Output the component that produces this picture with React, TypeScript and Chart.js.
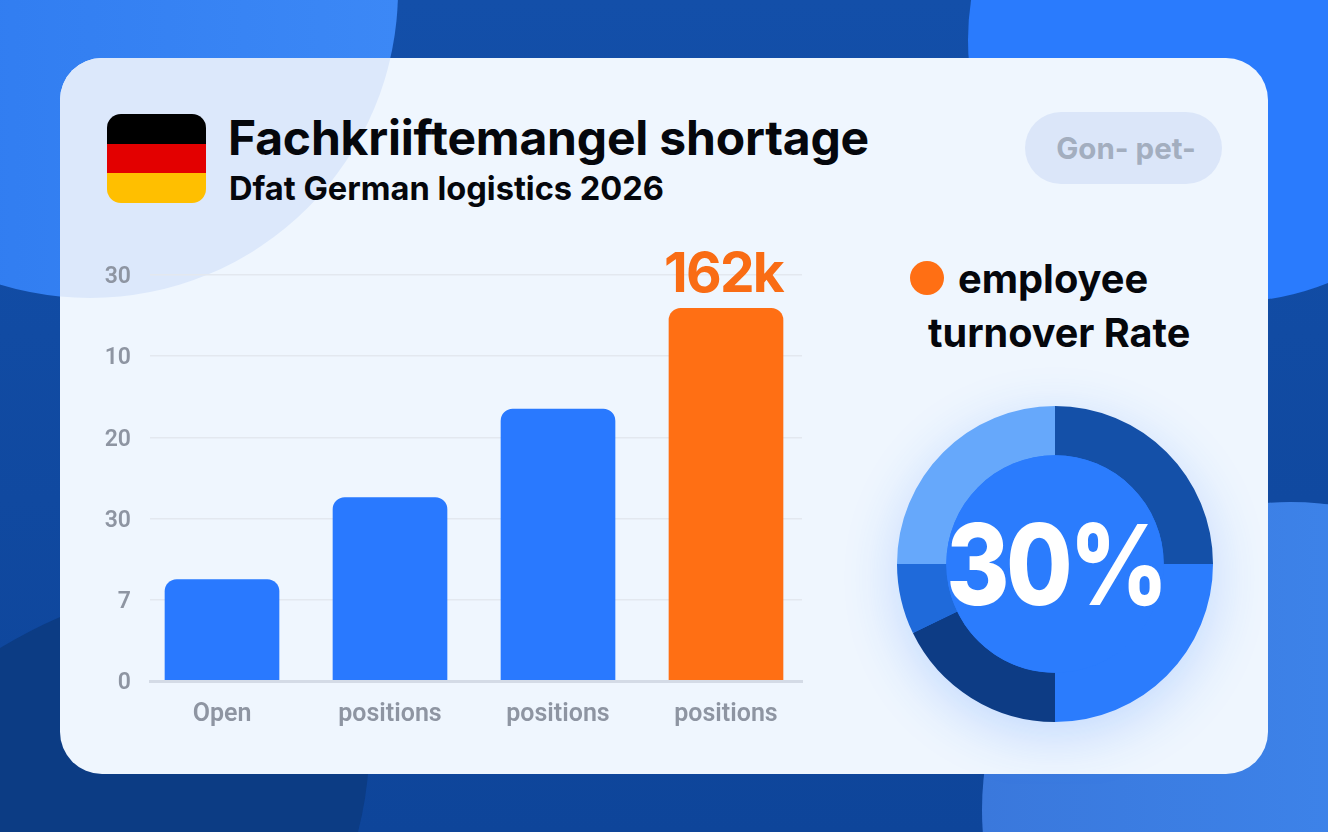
import React, { useEffect, useRef } from "react";
import { Chart, registerables } from "chart.js";

Chart.register(...registerables);

const titleText = "Fachkriiftemangel shortage";
const subtitleText = "Dfat German logistics 2026";
const pillText = "Gon- pet-";
const legendLines = ["employee", "turnover Rate"];

const categories = ["Open", "positions", "positions", "positions"];
const barValues = [1.25, 2.26, 3.35, 4.59];
const barColors = ["#2979ff", "#2979ff", "#2979ff", "#ff6f14"];
const yTickLabels = ["0", "7", "30", "20", "10", "30"];
const peakLabel = "162k";

const donutShares = [25, 25, 17.8, 7.2, 25];
const donutColors = ["#1450a8", "#2b7cfd", "#0d3c85", "#1f6ada", "#66a8fb"];
const donutCenterText = "30%";

const FONT = "Inter, sans-serif";
const TICK_FONT = "Roboto, sans-serif";

const peakLabelPlugin = {
  id: "peakLabel",
  afterDatasetsDraw(chart: any) {
    const el = chart.getDatasetMeta(0).data[barValues.length - 1];
    const { ctx } = chart;
    ctx.save();
    ctx.font = `700 55px ${FONT}`;
    ctx.letterSpacing = "-1.8px";
    ctx.fillStyle = "#f96c14";
    ctx.textAlign = "center";
    ctx.textBaseline = "alphabetic";
    ctx.fillText(peakLabel, el.x - 2.5, el.y - 16);
    ctx.restore();
  },
};

const donutDecor = {
  id: "donutDecor",
  beforeDatasetsDraw(chart: any) {
    const el = chart.getDatasetMeta(0).data[0];
    const { ctx } = chart;
    ctx.save();
    ctx.shadowColor = "rgba(41,121,255,0.24)";
    ctx.shadowBlur = 55;
    ctx.shadowOffsetY = 14;
    ctx.fillStyle = "#2b7cfd";
    ctx.beginPath();
    ctx.arc(el.x, el.y, el.outerRadius - 1, 0, Math.PI * 2);
    ctx.fill();
    ctx.restore();
  },
  afterDatasetsDraw(chart: any) {
    const el = chart.getDatasetMeta(0).data[0];
    const { ctx } = chart;
    ctx.save();
    ctx.fillStyle = "#2b7cfd";
    ctx.beginPath();
    ctx.arc(el.x, el.y, el.innerRadius, 0, Math.PI * 2);
    ctx.fill();
    ctx.translate(el.x + 0.5, el.y + 41);
    ctx.scale(0.86, 1);
    ctx.font = `800 112px ${FONT}`;
    ctx.letterSpacing = "-4px";
    ctx.fillStyle = "#ffffff";
    ctx.textAlign = "center";
    ctx.textBaseline = "alphabetic";
    ctx.fillText(donutCenterText, 0, 0);
    ctx.restore();
  },
};

export default function App() {
  const barRef = useRef<HTMLCanvasElement>(null);
  const donutRef = useRef<HTMLCanvasElement>(null);

  useEffect(() => {
    const bar = new Chart(barRef.current as HTMLCanvasElement, {
      type: "bar",
      data: {
        datasets: [
          {
            data: barValues.map((y, x) => ({ x, y })),
            backgroundColor: barColors,
            barThickness: 114,
            borderRadius: { topLeft: 12, topRight: 12, bottomLeft: 0, bottomRight: 0 },
            borderSkipped: false,
          },
        ],
      },
      options: {
        responsive: false,
        animation: false,
        layout: { padding: { top: 45, right: 18, left: 0, bottom: 0 } },
        plugins: { legend: { display: false }, tooltip: { enabled: false } },
        scales: {
          x: {
            type: "linear",
            offset: false,
            min: -0.4286,
            max: 3.4524,
            afterBuildTicks: (s: any) => {
              s.ticks = categories.map((_, value) => ({ value }));
            },
            afterFit: (s: any) => {
              s.height = 69;
            },
            grid: { display: false, drawTicks: false, offset: false },
            border: { display: true, color: "#d4dbe6", width: 3, z: 1 },
            ticks: {
              autoSkip: false,
              maxRotation: 0,
              padding: 19,
              color: "#8e95a2",
              font: { family: TICK_FONT, size: 25, weight: "600" },
              callback: (v: any) => categories[v as number],
            },
          },
          y: {
            min: 0,
            max: 5,
            afterFit: (s: any) => {
              s.width = 50;
            },
            grid: {
              drawTicks: false,
              lineWidth: 1.5,
              color: (c: any) => (c.tick.value === 0 ? "rgba(0,0,0,0)" : "#e3e8ef"),
            },
            border: { display: false },
            ticks: {
              stepSize: 1,
              padding: 19,
              labelOffset: 2.5,
              color: "#8e95a2",
              font: { family: TICK_FONT, size: 23, weight: "600" },
              callback: (v: any) => yTickLabels[v as number],
            },
          },
        },
      } as any,
      plugins: [peakLabelPlugin],
    });

    const donut = new Chart(donutRef.current as HTMLCanvasElement, {
      type: "doughnut",
      data: {
        datasets: [{ data: donutShares, backgroundColor: donutColors, borderWidth: 0 }],
      },
      options: {
        responsive: false,
        animation: false,
        cutout: "68.8%",
        layout: { padding: 62 },
        plugins: { legend: { display: false }, tooltip: { enabled: false } },
      } as any,
      plugins: [donutDecor],
    });

    return () => {
      bar.destroy();
      donut.destroy();
    };
  }, []);

  return (
    <div style={{ position: "fixed", left: 0, top: 0, width: 1328, height: 832, overflow: "hidden" }}>
      <svg width={1328} height={832} style={{ position: "absolute", left: 0, top: 0 }}>
        <defs>
          <clipPath id="cardClip">
            <rect x={60} y={58} width={1208} height={716} rx={42} />
          </clipPath>
          <linearGradient id="baseGrad" x1="0" y1="0" x2="0" y2="1">
            <stop offset="0" stopColor="#134fa9" />
            <stop offset="1" stopColor="#0e459a" />
          </linearGradient>
          <linearGradient id="tlGrad" x1="0" y1="0" x2="1" y2="0">
            <stop offset="0" stopColor="#2c78ee" />
            <stop offset="1" stopColor="#3c88f6" />
          </linearGradient>
          <linearGradient id="brGrad" x1="0" y1="0" x2="1" y2="0">
            <stop offset="0" stopColor="#3a78dc" />
            <stop offset="1" stopColor="#3f8aF2" />
          </linearGradient>
        </defs>
        <rect width={1328} height={832} fill="url(#baseGrad)" />
        <circle cx={90} cy={-10} r={308} fill="url(#tlGrad)" />
        <circle cx={1230} cy={40} r={262} fill="#2a7bfd" />
        <circle cx={1290} cy={810} r={308} fill="url(#brGrad)" />
        <path d="M0 648 Q30 630 60 617 L368 700 Q374 770 358 832 L0 832 Z" fill="#0c3c84" />
        <rect x={60} y={58} width={1208} height={716} rx={42} fill="#eff6fe" />
        <circle cx={90} cy={-10} r={308} fill="#dce8fb" clipPath="url(#cardClip)" />

        <clipPath id="flagClip">
          <rect x={107} y={114} width={99} height={89} rx={14} />
        </clipPath>
        <g clipPath="url(#flagClip)">
          <rect x={107} y={114} width={99} height={30} fill="#000000" />
          <rect x={107} y={144} width={99} height={29} fill="#e30000" />
          <rect x={107} y={173} width={99} height={30} fill="#ffbf00" />
        </g>

        <text x={228} y={155} fontFamily={FONT} fontWeight={700} fontSize={48} letterSpacing={-0.2} fill="#05070c">
          {titleText}
        </text>
        <text x={229} y={200} fontFamily={FONT} fontWeight={700} fontSize={32.6} fill="#05070c">
          {subtitleText}
        </text>

        <rect x={1025} y={112} width={197} height={72} rx={36} fill="#dbe6f9" />
        <text x={1126} y={159} textAnchor="middle" fontFamily={FONT} fontWeight={700} fontSize={29.5} fill="#a3aebf">
          {pillText}
        </text>

        <circle cx={927} cy={278} r={17} fill="#ff6f14" />
        <text x={958} y={293} fontFamily={FONT} fontWeight={700} fontSize={39.8} fill="#05070c">
          {legendLines[0]}
        </text>
        <text x={928} y={347} fontFamily={FONT} fontWeight={700} fontSize={39.6} fill="#05070c">
          {legendLines[1]}
        </text>
      </svg>
      <canvas ref={barRef} width={720} height={520} style={{ position: "absolute", left: 100, top: 230 }} />
      <canvas ref={donutRef} width={440} height={440} style={{ position: "absolute", left: 835, top: 344 }} />
    </div>
  );
}
